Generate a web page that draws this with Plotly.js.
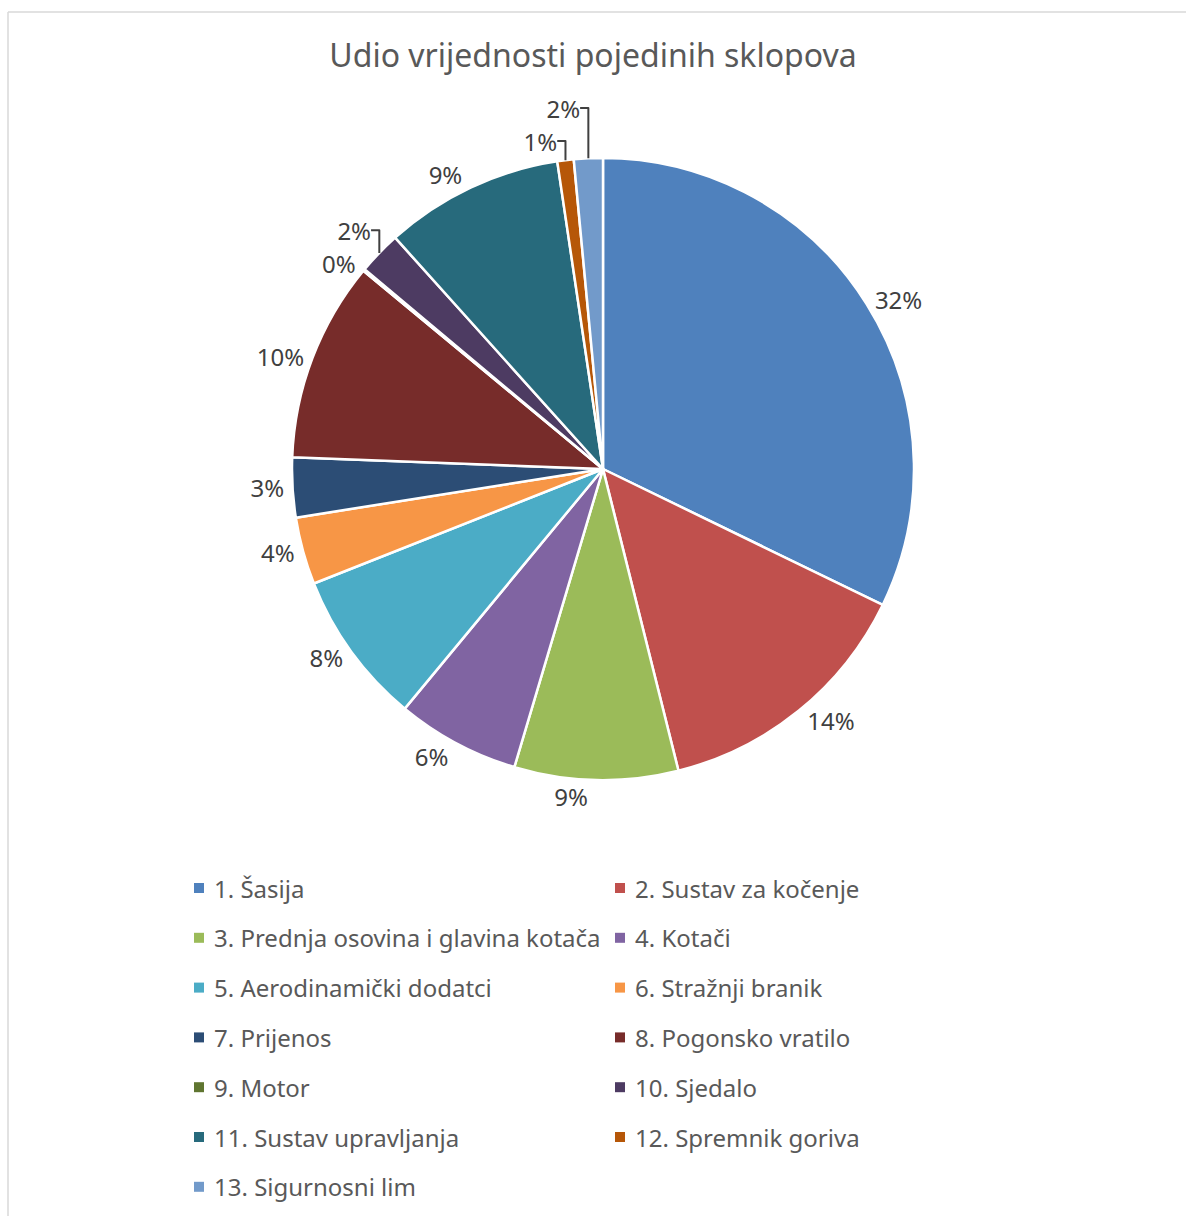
<!DOCTYPE html>
<html>
<head>
<meta charset="utf-8">
<script src="https://cdn.plot.ly/plotly-3.0.1.min.js"></script>
<style>html,body{margin:0;padding:0;background:#fff;}#chart{width:1186px;height:1216px;}</style>
</head>
<body>
<div id="chart"></div>
<script>
const categories = [
  "1. Šasija",
  "2. Sustav za kočenje",
  "3. Prednja osovina i glavina kotača",
  "4. Kotači",
  "5. Aerodinamički dodatci",
  "6. Stražnji branik",
  "7. Prijenos",
  "8. Pogonsko vratilo",
  "9. Motor",
  "10. Sjedalo",
  "11. Sustav upravljanja",
  "12. Spremnik goriva",
  "13. Sigurnosni lim"
];
const shares = [32.2, 13.9, 8.5, 6.4, 8.0, 3.5, 3.1, 10.4, 0.1, 2.25, 9.3, 0.85, 1.5];
const colors = ["#4F81BD", "#C0504D", "#9BBB59", "#8064A2", "#4BACC6", "#F79646",
                "#2C4D75", "#772C2A", "#5F7530", "#4D3B62", "#276A7C", "#B65708", "#729ACA"];
const chartTitle = "Udio vrijednosti pojedinih sklopova";

const W = 1186, H = 1216;
const FONT = "Noto Sans, Open Sans, sans-serif";

const trace = {
  type: "pie",
  labels: categories,
  values: shares,
  sort: false,
  direction: "clockwise",
  rotation: 0,
  marker: {colors: colors, line: {color: "#ffffff", width: 2.5}},
  textposition: "outside",
  texttemplate: "%{percent:.0%}",
  outsidetextfont: {family: FONT, size: 24, color: "#404040"},
  hoverinfo: "label+percent",
  showlegend: false,
  domain: {x: [(603 - 311) / W, (603 + 311) / W], y: [(H - 469 - 311) / H, (H - 469 + 311) / H]}
};

const shapes = [
  {type: "line", xref: "paper", yref: "paper", x0: 8 / W, x1: 8 / W, y0: 0, y1: 1 - 12 / H, line: {color: "#D9D9D9", width: 1.5}},
  {type: "line", xref: "paper", yref: "paper", x0: 8 / W, x1: 1, y0: 1 - 12 / H, y1: 1 - 12 / H, line: {color: "#D9D9D9", width: 1.5}}
];
const annotations = [];
categories.forEach(function (name, i) {
  const col = i % 2, row = Math.floor(i / 2);
  const cx = 199 + col * 421, cy = 888 + row * 49.8;
  shapes.push({type: "rect", xref: "paper", yref: "paper",
    x0: (cx - 5) / W, x1: (cx + 5) / W, y0: 1 - (cy + 5) / H, y1: 1 - (cy - 5) / H,
    fillcolor: colors[i], line: {width: 0}});
  annotations.push({xref: "paper", yref: "paper", x: (cx + 13) / W, y: 1 - cy / H,
    xanchor: "left", yanchor: "middle", showarrow: false, text: name,
    font: {family: FONT, size: 24, color: "#595959"}});
});

const layout = {
  width: W, height: H,
  margin: {l: 0, r: 0, t: 0, b: 0},
  paper_bgcolor: "#ffffff",
  title: {text: chartTitle, x: 0.5, xanchor: "center", y: 1 - 56 / H, yanchor: "middle",
          font: {family: FONT, size: 32, color: "#595959"}},
  showlegend: false,
  shapes: shapes,
  annotations: annotations
};

Plotly.newPlot("chart", [trace], layout, {displayModeBar: false, staticPlot: true});
</script>
</body>
</html>
